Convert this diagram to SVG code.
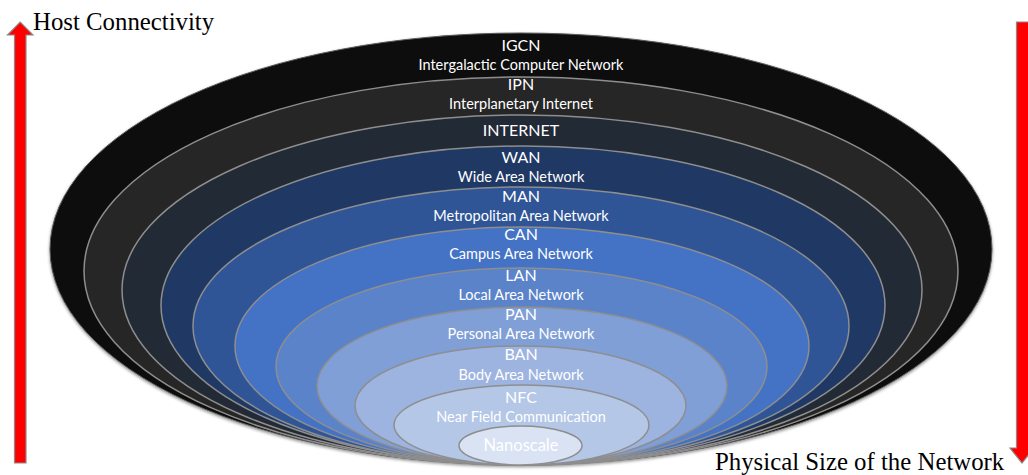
<svg xmlns="http://www.w3.org/2000/svg" width="1028" height="475" viewBox="0 0 1028 475">
  <defs>
    <filter id="soft" x="-5%" y="-5%" width="110%" height="112%">
      <feDropShadow dx="0" dy="1.5" stdDeviation="1.5" flood-color="#000" flood-opacity="0.45"/>
    </filter>
  </defs>
  <style>
    .ring { stroke: #8e8e8e; stroke-width: 1.5; }
    .title { font-family: Lato, "Open Sans", sans-serif; font-size: 16px; fill: #ffffff; text-anchor: middle; }
    .sub { font-family: Lato, "Open Sans", sans-serif; font-size: 14.5px; fill: #ffffff; text-anchor: middle; }
    .axis { font-family: "Liberation Serif", "Times New Roman", serif; font-size: 24.8px; fill: #000000; }
    .arrow { fill: #ff0000; stroke: #8a8a8a; stroke-width: 1.2; }
  </style>

  <!-- axis arrows -->
  <g id="axes">
    <polygon class="arrow" points="14.5,463 26,463 26,35 33,35 20.2,22 7.5,35 14.5,35"/>
    <polygon class="arrow" points="1016.5,22 1030,22 1030,448 1034,448 1022,463 1010,448 1016.5,448"/>
    <text class="axis" x="33" y="29.5">Host Connectivity</text>
    <text class="axis" x="715" y="470">Physical Size of the Network</text>
  </g>

  <!-- nested network scopes, largest first; all share the bottom point -->
  <g id="igcn">
    <ellipse cx="521" cy="249" rx="471" ry="216" fill="#0d0d0d" stroke="#5a5a5a" stroke-width="1" filter="url(#soft)"/>
    <text class="title" x="521" y="51">IGCN</text>
    <text class="sub" x="521" y="69.5">Intergalactic Computer Network</text>
  </g>
  <g id="ipn">
    <ellipse class="ring" cx="521" cy="271" rx="437" ry="194" fill="#262626"/>
    <text class="title" x="521" y="90">IPN</text>
    <text class="sub" x="521" y="109">Interplanetary Internet</text>
  </g>
  <g id="internet">
    <ellipse class="ring" cx="522" cy="290" rx="400" ry="175" fill="#222a35"/>
    <text class="title" x="521" y="136">INTERNET</text>
  </g>
  <g id="wan">
    <ellipse class="ring" cx="523" cy="305.5" rx="362" ry="159.5" fill="#1f3864"/>
    <text class="title" x="521" y="163">WAN</text>
    <text class="sub" x="521" y="181.5">Wide Area Network</text>
  </g>
  <g id="man">
    <ellipse class="ring" cx="521" cy="326" rx="328" ry="139" fill="#2f5597"/>
    <text class="title" x="521" y="202">MAN</text>
    <text class="sub" x="521" y="220.5">Metropolitan Area Network</text>
  </g>
  <g id="can">
    <ellipse class="ring" cx="522" cy="346" rx="287" ry="119" fill="#4472c4"/>
    <text class="title" x="521" y="240">CAN</text>
    <text class="sub" x="521" y="259">Campus Area Network</text>
  </g>
  <g id="lan">
    <ellipse class="ring" cx="521.5" cy="366.5" rx="245.5" ry="98.5" fill="#5b83ca"/>
    <text class="title" x="521" y="280.5">LAN</text>
    <text class="sub" x="521" y="300">Local Area Network</text>
  </g>
  <g id="pan">
    <ellipse class="ring" cx="522" cy="386" rx="205" ry="79" fill="#7f9fd6"/>
    <text class="title" x="521" y="319.5">PAN</text>
    <text class="sub" x="521" y="339">Personal Area Network</text>
  </g>
  <g id="ban">
    <ellipse class="ring" cx="520.5" cy="405.5" rx="165.5" ry="59.5" fill="#9db4e0"/>
    <text class="title" x="521" y="360">BAN</text>
    <text class="sub" x="521" y="380">Body Area Network</text>
  </g>
  <g id="nfc">
    <ellipse class="ring" cx="521.5" cy="425" rx="127.5" ry="40" fill="#b4c7e7"/>
    <text class="title" x="521" y="403">NFC</text>
    <text class="sub" x="521" y="421.5">Near Field Communication</text>
  </g>
  <g id="nanoscale">
    <ellipse class="ring" cx="520.5" cy="445.5" rx="61.5" ry="19.5" fill="#dae3f3"/>
    <text class="title" x="521" y="451" style="font-size:16.5px">Nanoscale</text>
  </g>
</svg>
